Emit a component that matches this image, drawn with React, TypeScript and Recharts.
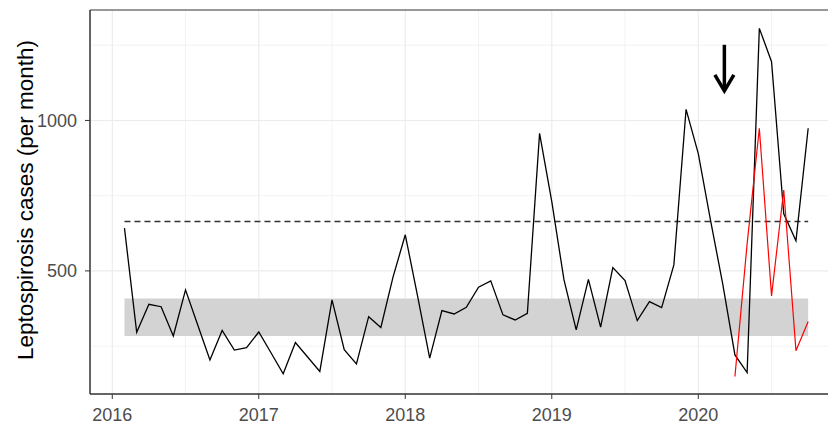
import React from 'react';
import {
  ComposedChart,
  Line,
  XAxis,
  YAxis,
  CartesianGrid,
  ReferenceArea,
  ReferenceLine,
  ReferenceDot,
} from 'recharts';

// Monthly observed leptospirosis cases (black line), Feb 2016 - Oct 2020
const months = [
  '2016-02', '2016-03', '2016-04', '2016-05', '2016-06', '2016-07', '2016-08', '2016-09', '2016-10', '2016-11', '2016-12',
  '2017-01', '2017-02', '2017-03', '2017-04', '2017-05', '2017-06', '2017-07', '2017-08', '2017-09', '2017-10', '2017-11', '2017-12',
  '2018-01', '2018-02', '2018-03', '2018-04', '2018-05', '2018-06', '2018-07', '2018-08', '2018-09', '2018-10', '2018-11', '2018-12',
  '2019-01', '2019-02', '2019-03', '2019-04', '2019-05', '2019-06', '2019-07', '2019-08', '2019-09', '2019-10', '2019-11', '2019-12',
  '2020-01', '2020-02', '2020-03', '2020-04', '2020-05', '2020-06', '2020-07', '2020-08', '2020-09', '2020-10',
];
const observed = [
  642, 296, 389, 381, 284, 437, 320, 204, 302, 237, 245,
  297, 228, 158, 262, 214, 166, 404, 238, 191, 348, 312, 480,
  620, 418, 210, 368, 357, 379, 446, 467, 354, 337, 359, 957,
  730, 470, 304, 472, 313, 511, 468, 335, 398, 378, 520, 1037,
  890, 669, 457, 221, 162, 1306, 1195, 690, 600, 974,
];

// Red series (2020)
const redMonths = ['2020-04', '2020-05', '2020-06', '2020-07', '2020-08', '2020-09', '2020-10'];
const redValues = [149, 590, 974, 417, 769, 235, 332];

// Reference band, threshold, arrow annotation
const bandLow = 284;
const bandHigh = 408;
const threshold = 664;
const arrowTime = 2020.178;
const arrowValue = 1175;

// Axis ticks
const xTicks = [2016, 2017, 2018, 2019, 2020];
const xMinor = [2016.5, 2017.5, 2018.5, 2019.5, 2020.5];
const yTicks = [500, 1000];
const yMinor = [250, 750, 1250];

const xDomain: [number, number] = [2015.848, 2020.899];
const yDomain: [number, number] = [91, 1367];

const toT = (m: string) => {
  const [y, mo] = m.split('-').map(Number);
  return y + (mo - 1) / 12;
};

const redMap: Record<string, number> = {};
redMonths.forEach((m, i) => {
  redMap[m] = redValues[i];
});

const data = months.map((m, i) => ({
  t: toT(m),
  obs: observed[i],
  red: redMap[m] !== undefined ? redMap[m] : null,
}));

const firstT = toT(months[0]);
const lastT = toT(months[months.length - 1]);

const FONT = '"Liberation Sans", Arial, Helvetica, sans-serif';

const ArrowShape = (props: any) => {
  const { cx, cy } = props;
  if (cx == null || cy == null) return null;
  return (
    <g>
      <path
        d={`M${cx},${cy - 23} L${cx},${cy + 22}`}
        stroke="#000"
        strokeWidth={3.5}
        fill="none"
      />
      <path
        d={`M${cx - 9.5},${cy + 7} L${cx},${cy + 23} L${cx + 9.5},${cy + 7}`}
        stroke="#000"
        strokeWidth={3.5}
        fill="none"
        strokeLinejoin="miter"
      />
    </g>
  );
};

const YTitle = () => (
  <text
    x={25}
    y={200}
    transform="rotate(-90 25 200)"
    textAnchor="middle"
    dominantBaseline="central"
    fontSize={22.5}
    fontFamily={FONT}
    fill="#000"
  >
    Leptospirosis cases (per month)
  </text>
);

export default function App() {
  return (
    <div
      style={{
        position: 'absolute',
        left: 0,
        top: 0,
        width: 828,
        height: 427,
        overflow: 'hidden',
        background: '#fff',
      }}
    >
      <ComposedChart
        width={832}
        height={427}
        data={data}
        margin={{ top: 10, right: 2, bottom: 3, left: 0 }}
      >
        <CartesianGrid
          stroke="#ebebeb"
          strokeWidth={0.6}
          horizontalValues={yMinor}
          verticalValues={xMinor}
        />
        <CartesianGrid
          stroke="#ebebeb"
          strokeWidth={1.1}
          horizontalValues={yTicks}
          verticalValues={xTicks}
        />
        <XAxis
          type="number"
          dataKey="t"
          domain={xDomain}
          ticks={xTicks}
          allowDataOverflow
          height={30}
          tickSize={5}
          tickMargin={9}
          axisLine={{ stroke: '#333', strokeWidth: 1 }}
          tickLine={{ stroke: '#333' }}
          tick={{ fill: '#4d4d4d', fontSize: 18, fontFamily: FONT }}
          interval={0}
        />
        <YAxis
          type="number"
          domain={yDomain}
          ticks={yTicks}
          allowDataOverflow
          width={90}
          tickSize={5}
          tickMargin={8}
          axisLine={{ stroke: '#333', strokeWidth: 1 }}
          tickLine={{ stroke: '#333' }}
          tick={{ fill: '#4d4d4d', fontSize: 18, fontFamily: FONT }}
          interval={0}
          label={() => <YTitle />}
        />
        <ReferenceArea
          x1={firstT}
          x2={lastT}
          y1={bandLow}
          y2={bandHigh}
          fill="#d3d3d3"
          fillOpacity={1}
          stroke="none"
        />
        <ReferenceLine
          segment={[
            { x: firstT, y: threshold },
            { x: lastT, y: threshold },
          ]}
          stroke="#333"
          strokeWidth={1.5}
          strokeDasharray="6 4"
        />
        <Line
          type="linear"
          dataKey="obs"
          stroke="#000"
          strokeWidth={1.3}
          dot={false}
          isAnimationActive={false}
        />
        <Line
          type="linear"
          dataKey="red"
          stroke="#ff0000"
          strokeWidth={1.2}
          dot={false}
          connectNulls={false}
          isAnimationActive={false}
        />
        <ReferenceArea
          x1={xDomain[0]}
          x2={xDomain[1]}
          y1={yDomain[0]}
          y2={yDomain[1]}
          fill="none"
          stroke="#333"
          strokeWidth={1}
        />
        <ReferenceDot x={arrowTime} y={arrowValue} shape={ArrowShape} />
      </ComposedChart>
    </div>
  );
}
